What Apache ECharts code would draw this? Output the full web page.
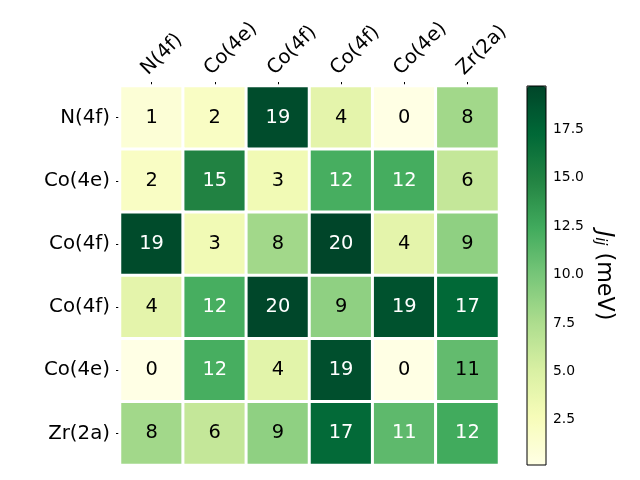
<!DOCTYPE html>
<html>
<head>
<meta charset="utf-8">
<script src="https://cdn.jsdelivr.net/npm/echarts@6/dist/echarts.min.js"></script>
<style>html,body{margin:0;padding:0;background:#fff}#c{width:640px;height:480px}</style>
</head>
<body>
<div id="c"></div>
<script>
var xLabels = ['N(4f)', 'Co(4e)', 'Co(4f)', 'Co(4f)', 'Co(4e)', 'Zr(2a)'];
var yLabels = ['N(4f)', 'Co(4e)', 'Co(4f)', 'Co(4f)', 'Co(4e)', 'Zr(2a)'];
// rows top to bottom, columns left to right (meV)
var row0 = [1.0, 2.0, 19.2, 4.2, 0.2, 8.0];
var row1 = [2.0, 15.0, 3.1, 12.1, 12.2, 6.2];
var row2 = [19.3, 3.1, 8.0, 19.72, 4.2, 8.9];
var row3 = [4.2, 12.1, 19.6, 8.9, 18.8, 17.2];
var row4 = [0.17, 12.1, 4.3, 19.0, 0.2, 10.9];
var row5 = [8.0, 6.2, 8.9, 17.1, 11.1, 12.4];
var rows = [row0, row1, row2, row3, row4, row5];
var cbTicks = [2.5, 5.0, 7.5, 10.0, 12.5, 15.0, 17.5];
var vMin = 0.17, vMax = 19.72;
var whiteAbove = 11.0;
var ylgn = ['#ffffe5','#f7fcb9','#d9f0a3','#addd8e','#78c679','#41ab5d','#238443','#006837','#004529'];

var data = [];
rows.forEach(function (r, i) {
  r.forEach(function (v, j) {
    data.push({value: [j, i, v], label: {color: v > whiteAbove ? '#ffffff' : '#000000'}});
  });
});

var FONT = 'DejaVu Sans';
var chart = echarts.init(document.getElementById('c'));
chart.setOption({
  animation: false,
  textStyle: {fontFamily: FONT},
  grid: [
    {left: 120, top: 86, width: 379, height: 379},
    {left: 527, top: 86, width: 19, height: 379, show: true, borderColor: '#000', borderWidth: 1, backgroundColor: 'transparent', z: 10}
  ],
  xAxis: [
    {type: 'category', gridIndex: 0, position: 'top', data: xLabels,
     axisLine: {show: false}, splitLine: {show: false},
     axisTick: {show: true, alignWithLabel: true, length: 4, lineStyle: {color: '#000'}},
     axisLabel: {rotate: -45, margin: 7, fontSize: 19.6, color: '#000', fontFamily: FONT, align: 'left', verticalAlign: 'bottom', interval: 0}},
    {type: 'value', gridIndex: 1, show: false, min: 0, max: 1}
  ],
  yAxis: [
    {type: 'category', gridIndex: 0, inverse: true, data: yLabels,
     axisLine: {show: false}, splitLine: {show: false},
     axisTick: {show: true, alignWithLabel: true, length: 4, lineStyle: {color: '#000'}},
     axisLabel: {margin: 10, fontSize: 19.8, color: '#000', fontFamily: FONT, interval: 0}},
    {type: 'value', gridIndex: 1, position: 'right', min: vMin, max: vMax,
     axisLine: {show: false}, splitLine: {show: false},
     axisTick: {show: true, length: 4, lineStyle: {color: '#000'}, customValues: cbTicks},
     axisLabel: {margin: 7, fontSize: 13.9, color: '#000', fontFamily: FONT, customValues: cbTicks,
                 formatter: function (v) { return v.toFixed(1); }},
     name: '{j|J}{s|ij} (meV)', nameLocation: 'middle', nameRotate: -90, nameGap: 46,
     nameTextStyle: {fontSize: 22.2, color: '#000', fontFamily: FONT,
       rich: {j: {fontSize: 22.2, fontStyle: 'italic', fontFamily: FONT, color: '#000'},
              s: {fontSize: 15, fontStyle: 'italic', fontFamily: FONT, color: '#000', padding: [9, 0, 0, 0]}}}}
  ],
  visualMap: {
    type: 'continuous', min: vMin, max: vMax, seriesIndex: 0,
    calculable: false, realtime: false, show: true,
    left: 527, top: 86, itemWidth: 19, itemHeight: 379, padding: 0,
    orient: 'vertical', inRange: {color: ylgn}, text: null, showLabel: false
  },
  series: [{
    type: 'heatmap', xAxisIndex: 0, yAxisIndex: 0, data: data,
    itemStyle: {borderColor: '#fff', borderWidth: 3},
    label: {show: true, fontSize: 19.4, fontFamily: FONT,
            formatter: function (p) { return Math.round(p.value[2]).toString(); }},
    emphasis: {disabled: true}
  }]
});
</script>
</body>
</html>
